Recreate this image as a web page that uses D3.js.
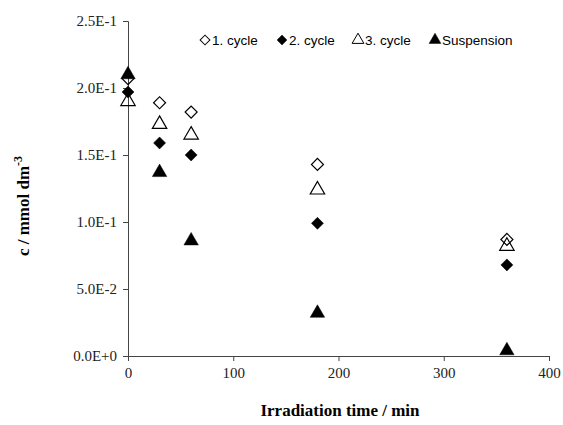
<!DOCTYPE html>
<html>
<head>
<meta charset="utf-8">
<script src="https://cdn.jsdelivr.net/npm/d3@7"></script>
<style>
  body { margin: 0; background: #fff; }
  .tick text { font-family: "Liberation Serif", serif; font-size: 15px; fill: #222; }
  .axis path, .axis line { stroke: #444; }
  .title { font-family: "Liberation Serif", serif; font-size: 17px; font-weight: bold; }
  .legend text { font-family: "Liberation Sans", sans-serif; font-size: 13.5px; }
</style>
</head>
<body>
<div id="chart"></div>
<script>
var times = [0, 30, 60, 180, 360];
var cycle1 = [0.207, 0.189, 0.182, 0.143, 0.087];
var cycle2 = [0.197, 0.159, 0.150, 0.099, 0.068];
var cycle3 = [0.190, 0.173, 0.165, 0.124, 0.082];
var suspension = [0.210, 0.137, 0.086, 0.032, 0.004];
var yTicks = [0, 0.05, 0.1, 0.15, 0.2, 0.25];
var yTickLabels = ["0.0E+0", "5.0E-2", "1.0E-1", "1.5E-1", "2.0E-1", "2.5E-1"];
var xTicks = [0, 100, 200, 300, 400];

var series = [
  { name: "1. cycle", values: cycle1, shape: "diamond", filled: false },
  { name: "2. cycle", values: cycle2, shape: "diamond", filled: true },
  { name: "3. cycle", values: cycle3, shape: "triangle", filled: false },
  { name: "Suspension", values: suspension, shape: "triangle", filled: true }
];

let svg = d3.select('#chart').append('svg')
  .attr('width', 563)
  .attr('height', 425);

let xScale = d3.scaleLinear().domain([0, 400]).range([128, 549]);
let yScale = d3.scaleLinear().domain([0, 0.25]).range([356, 21]);

let xAxis = d3.axisBottom(xScale).tickValues(xTicks).tickSizeOuter(0).tickSize(5).tickPadding(6);
let yAxis = d3.axisLeft(yScale).tickValues(yTicks).tickSizeOuter(0).tickSize(5).tickPadding(6)
  .tickFormat((d, i)=> yTickLabels[i]);

svg.append('g').attr('class', 'axis')
  .attr('transform', 'translate(0, 356)')
  .call(xAxis);
svg.append('g').attr('class', 'axis')
  .attr('transform', 'translate(128, 0)')
  .call(yAxis);

// axis titles
svg.append('text').attr('class', 'title')
  .attr('x', 340)
  .attr('y', 416)
  .attr('text-anchor', 'middle')
  .text('Irradiation time / min');

let yt = svg.append('text').attr('class', 'title')
  .attr('transform', 'translate(29, 206) rotate(-90)')
  .attr('text-anchor', 'middle');
yt.append('tspan').text('c / mmol dm');
yt.append('tspan').attr('dy', -7).attr('font-size', 12).text('-3');

// diamond = square turned 45 degrees
let markerPath = (shape, size)=> shape === "diamond"
  ? d3.symbol().type(d3.symbolSquare).size(size * 0.8)()
  : d3.symbol().type(d3.symbolTriangle).size(size)();
let markerRot = (shape)=> shape === "diamond" ? " rotate(45)" : "";

// markers
series.forEach((s)=> {
  svg.append('g').selectAll('path').data(s.values).enter()
    .append('path')
    .attr('d', markerPath(s.shape, 90))
    .attr('transform', (d, i)=> "translate(" + xScale(times[i]) + "," + yScale(d) + ")" + markerRot(s.shape))
    .attr('fill', s.filled ? '#000' : 'none')
    .attr('stroke', '#000')
    .attr('stroke-width', s.filled ? 0.5 : 1.2);
});

// legend
let legendX = [205, 282, 358, 435];
let legend = svg.append('g').attr('class', 'legend');
series.forEach((s, i)=> {
  let g = legend.append('g').attr('transform', "translate(" + legendX[i] + ", 40)");
  g.append('path')
    .attr('d', markerPath(s.shape, 60))
    .attr('transform', markerRot(s.shape))
    .attr('fill', s.filled ? '#000' : 'none')
    .attr('stroke', '#000')
    .attr('stroke-width', s.filled ? 0.5 : 1);
  g.append('text')
    .attr('x', 7)
    .attr('y', 5)
    .text(s.name);
});
</script>
</body>
</html>
